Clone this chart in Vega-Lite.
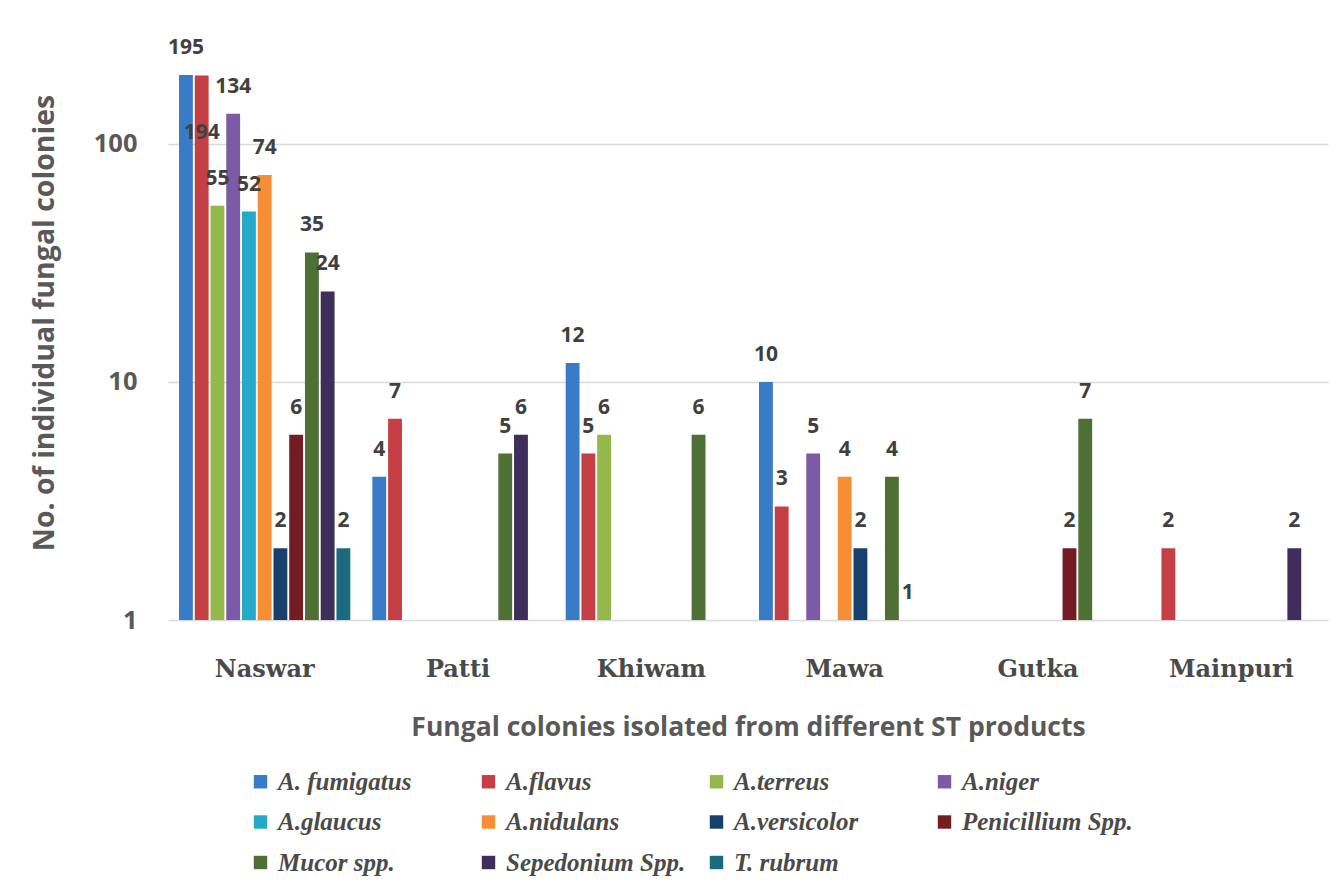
{
  "$schema": "https://vega.github.io/schema/vega-lite/v6.json",
  "width": 1160,
  "height": 595,
  "autosize": {"type": "none"},
  "padding": {"left": 168, "top": 25, "right": 8, "bottom": 272},
  "background": "white",
  "config": {"view": {"stroke": null}},
  "data": {
    "values": [
      {"product": "Naswar", "species": "A. fumigatus", "value": 195},
      {"product": "Naswar", "species": "A.flavus", "value": 194},
      {"product": "Naswar", "species": "A.terreus", "value": 55},
      {"product": "Naswar", "species": "A.niger", "value": 134},
      {"product": "Naswar", "species": "A.glaucus", "value": 52},
      {"product": "Naswar", "species": "A.nidulans", "value": 74},
      {"product": "Naswar", "species": "A.versicolor", "value": 2},
      {"product": "Naswar", "species": "Penicillium Spp.", "value": 6},
      {"product": "Naswar", "species": "Mucor spp.", "value": 35},
      {"product": "Naswar", "species": "Sepedonium Spp.", "value": 24},
      {"product": "Naswar", "species": "T. rubrum", "value": 2},
      {"product": "Patti", "species": "A. fumigatus", "value": 4},
      {"product": "Patti", "species": "A.flavus", "value": 7},
      {"product": "Patti", "species": "Mucor spp.", "value": 5},
      {"product": "Patti", "species": "Sepedonium Spp.", "value": 6},
      {"product": "Khiwam", "species": "A. fumigatus", "value": 12},
      {"product": "Khiwam", "species": "A.flavus", "value": 5},
      {"product": "Khiwam", "species": "A.terreus", "value": 6},
      {"product": "Khiwam", "species": "Mucor spp.", "value": 6},
      {"product": "Mawa", "species": "A. fumigatus", "value": 10},
      {"product": "Mawa", "species": "A.flavus", "value": 3},
      {"product": "Mawa", "species": "A.niger", "value": 5},
      {"product": "Mawa", "species": "A.nidulans", "value": 4},
      {"product": "Mawa", "species": "A.versicolor", "value": 2},
      {"product": "Mawa", "species": "Mucor spp.", "value": 4},
      {"product": "Mawa", "species": "Sepedonium Spp.", "value": 1},
      {"product": "Gutka", "species": "Penicillium Spp.", "value": 2},
      {"product": "Gutka", "species": "Mucor spp.", "value": 7},
      {"product": "Mainpuri", "species": "A.flavus", "value": 2},
      {"product": "Mainpuri", "species": "Sepedonium Spp.", "value": 2}
    ]
  },
  "encoding": {
    "x": {
      "field": "product",
      "type": "nominal",
      "sort": ["Naswar", "Patti", "Khiwam", "Mawa", "Gutka", "Mainpuri"],
      "scale": {"paddingInner": 0.114, "paddingOuter": 0.057},
      "axis": {
        "title": "Fungal colonies isolated from different ST products",
        "titleFont": "Open Sans",
        "titleFontSize": 26.5,
        "titleFontWeight": "bold",
        "titleColor": "#595959",
        "titlePadding": 33,
        "labelFont": "DejaVu Serif",
        "labelFontSize": 24,
        "labelFontWeight": "bold",
        "labelColor": "#4a4a4a",
        "labelAngle": 0,
        "labelPadding": 37,
        "ticks": false,
        "domain": false
      }
    },
    "xOffset": {
      "field": "species",
      "type": "nominal",
      "sort": ["A. fumigatus", "A.flavus", "A.terreus", "A.niger", "A.glaucus", "A.nidulans", "A.versicolor", "Penicillium Spp.", "Mucor spp.", "Sepedonium Spp.", "T. rubrum"],
      "scale": {"paddingInner": 0.12, "paddingOuter": 0.0}
    },
    "y": {
      "field": "value",
      "type": "quantitative",
      "scale": {"type": "log", "domain": [1, 316]},
      "axis": {
        "title": "No. of individual fungal colonies",
        "titleFont": "Open Sans",
        "titleFontSize": 28.5,
        "titleFontWeight": "bold",
        "titleColor": "#595959",
        "titlePadding": 34,
        "values": [1, 10, 100],
        "format": "d",
        "labelFont": "Open Sans",
        "labelFontSize": 25.5,
        "labelFontWeight": "bold",
        "labelColor": "#595959",
        "labelPadding": 31,
        "ticks": false,
        "domain": false,
        "grid": true,
        "gridColor": "#d9d9d9",
        "gridWidth": 1.5
      }
    }
  },
  "layer": [
    {
      "mark": {"type": "bar"},
      "encoding": {
        "y2": {"datum": 1},
        "color": {
          "field": "species",
          "type": "nominal",
          "sort": ["A. fumigatus", "A.flavus", "A.terreus", "A.niger", "A.glaucus", "A.nidulans", "A.versicolor", "Penicillium Spp.", "Mucor spp.", "Sepedonium Spp.", "T. rubrum"],
          "scale": {
            "domain": ["A. fumigatus", "A.flavus", "A.terreus", "A.niger", "A.glaucus", "A.nidulans", "A.versicolor", "Penicillium Spp.", "Mucor spp.", "Sepedonium Spp.", "T. rubrum"],
            "range": ["#3a7bc8", "#c63f45", "#94b84a", "#7c5ba6", "#26a9c8", "#f58e34", "#17406d", "#731c22", "#4f7034", "#3f2d5c", "#1a6b7e"]
          },
          "legend": {
            "title": null,
            "orient": "none",
            "legendX": 80,
            "legendY": 744,
            "direction": "horizontal",
            "columns": 4,
            "gridAlign": "all",
            "columnPadding": 18,
            "rowPadding": 14.5,
            "symbolType": "square",
            "symbolSize": 180,
            "symbolStrokeWidth": 0,
            "symbolOpacity": 1,
            "labelFont": "Liberation Serif",
            "labelFontSize": 25,
            "labelFontWeight": "bold",
            "labelFontStyle": "italic",
            "labelColor": "#4a4a4a",
            "labelOffset": 5,
            "labelLimit": 300
          }
        }
      }
    },
    {
      "transform": [{"filter": "!(datum.product == 'Naswar' && datum.species == 'A.flavus')"}],
      "mark": {"type": "text", "font": "Open Sans", "fontSize": 21, "fontWeight": "bold", "color": "#404040", "baseline": "middle", "dy": -27},
      "encoding": {"text": {"field": "value", "type": "quantitative"}}
    },
    {
      "transform": [{"filter": "datum.product == 'Naswar' && datum.species == 'A.flavus'"}],
      "mark": {"type": "text", "font": "Open Sans", "fontSize": 21, "fontWeight": "bold", "color": "#404040", "baseline": "middle", "dy": 58},
      "encoding": {"text": {"field": "value", "type": "quantitative"}}
    }
  ]
}
